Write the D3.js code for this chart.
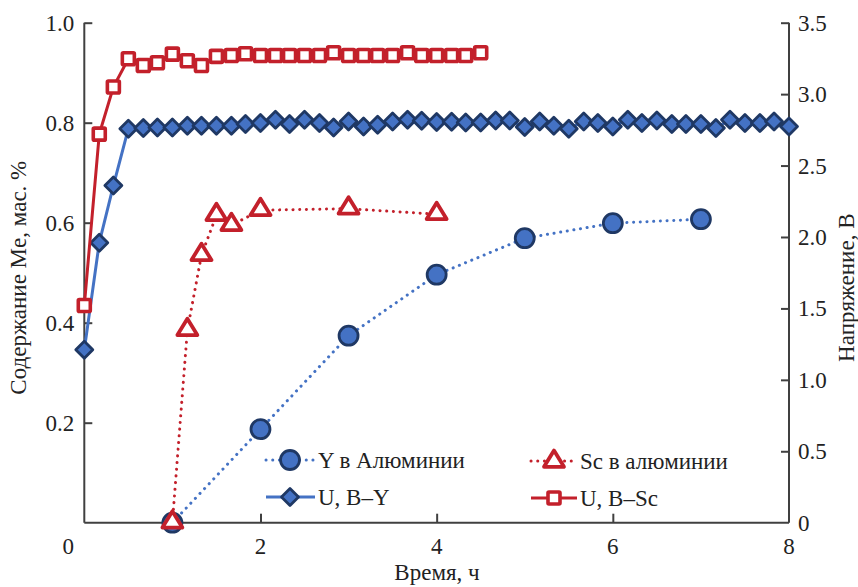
<!DOCTYPE html>
<html><head><meta charset="utf-8">
<script src="https://cdn.jsdelivr.net/npm/d3@7/dist/d3.min.js"></script>
<style>body{margin:0;background:#fff}svg{display:block}</style>
</head><body><svg id="c" width="858" height="587" font-family="'Liberation Serif', 'DejaVu Serif', serif"></svg>
<script>
// ---- data ----
const timeUY = [0,0.17,0.33,0.5,0.67,0.83,1,1.17,1.33,1.5,1.67,1.83,2,2.17,2.33,2.5,2.67,2.83,3,3.17,3.33,3.5,3.67,3.83,4,4.17,4.33,4.5,4.67,4.83,5,5.17,5.33,5.5,5.67,5.83,6,6.17,6.33,6.5,6.67,6.83,7,7.17,7.33,7.5,7.67,7.83,8];
const voltUY = [1.21,1.96,2.36,2.758,2.763,2.767,2.767,2.779,2.779,2.779,2.779,2.791,2.798,2.821,2.791,2.821,2.798,2.767,2.809,2.774,2.786,2.809,2.821,2.814,2.805,2.807,2.802,2.802,2.816,2.816,2.770,2.809,2.779,2.758,2.809,2.798,2.774,2.821,2.798,2.816,2.791,2.791,2.791,2.763,2.821,2.798,2.798,2.809,2.774];
const timeUSc = [0,0.17,0.33,0.5,0.67,0.83,1,1.17,1.33,1.5,1.67,1.83,2,2.17,2.33,2.5,2.67,2.83,3,3.17,3.33,3.5,3.67,3.83,4,4.17,4.33,4.5];
const voltUSc = [1.52,2.72,3.05,3.248,3.20,3.22,3.28,3.234,3.20,3.264,3.27,3.283,3.27,3.27,3.27,3.27,3.27,3.29,3.27,3.27,3.27,3.27,3.29,3.27,3.27,3.27,3.27,3.29];
const timeY = [1,2,3,4,5,6,7];
const contY = [0,0.187,0.374,0.496,0.569,0.599,0.607];
const timeSc = [1,1.17,1.33,1.5,1.67,2,3,4];
const contSc = [0,0.385,0.535,0.615,0.595,0.625,0.628,0.617];
const xTicks = [2,4,6,8];
const leftTicks = [0.2,0.4,0.6,0.8,1.0];
const rightTicks = [0,0.5,1.0,1.5,2.0,2.5,3.0,3.5];
const legendLabels = ["Y в Алюминии","Sc в алюминии","U, B\u2013Y","U, B\u2013Sc"];
const xTitle = "Время, ч", yLeftTitle = "Содержание Me, мас. %", yRightTitle = "Напряжение, В";

// ---- layout ----
const L = 84.3, R = 789, T = 22.7, B = 522.7;
const RED = "#C3202B", BLUE = "#4472C4", NAVY = "#1F3864", AX = "#404040", TXT = "#222";
const svg = d3.select("#c");
const x = d3.scaleLinear().domain([0,8]).range([L,R]);
const yL = d3.scaleLinear().domain([0,1]).range([B,T]);
const yR = d3.scaleLinear().domain([0,3.5]).range([B,T]);
const FS = 23;

// axes
const axL = svg.append("g").attr("transform",`translate(${L},0)`)
  .call(d3.axisRight(yL).tickValues(leftTicks).tickSize(8).tickFormat(""));
const axR = svg.append("g").attr("transform",`translate(${R},0)`)
  .call(d3.axisLeft(yR).tickValues(rightTicks.slice(1)).tickSize(8).tickFormat(""));
const axB = svg.append("g").attr("transform",`translate(0,${B})`)
  .call(d3.axisTop(x).tickValues(xTicks.slice(0,3)).tickSize(9).tickFormat(""));
[axL,axR,axB].forEach(g=>{g.selectAll("path,line").attr("stroke",AX).attr("stroke-width",2);});
axL.select(".domain").attr("d",`M0,${T}V${B}`);
axR.select(".domain").attr("d",`M0,${T}V${B}`);
axB.select(".domain").attr("d",`M${L},0H${R}`);

function txt(sel){return sel.attr("font-size",FS).attr("fill",TXT).attr("font-family","'Liberation Serif', 'DejaVu Serif', serif");}

// tick labels
txt(svg.append("g").selectAll("text").data(leftTicks).join("text")
  .attr("x",L-10).attr("y",d=>yL(d)+8).attr("text-anchor","end"))
  .text(d=>d3.format(".1f")(d));
txt(svg.append("g").selectAll("text").data(rightTicks).join("text")
  .attr("x",R+9).attr("y",d=>yR(d)+8).attr("text-anchor","start"))
  .text(d=>d===0?"0":d3.format(".1f")(d));
txt(svg.append("g").selectAll("text").data(xTicks).join("text")
  .attr("x",d=>x(d)).attr("y",B+31).attr("text-anchor","middle"))
  .text(d=>d);
txt(svg.append("text").attr("x",x(0)-16).attr("y",B+31).attr("text-anchor","middle")).text("0");

// titles
txt(svg.append("text").attr("x",437).attr("y",580).attr("text-anchor","middle")).text(xTitle);
txt(svg.append("text").attr("transform",`translate(26,${(T+B)/2+5}) rotate(-90)`).attr("text-anchor","middle")).text(yLeftTitle);
txt(svg.append("text").attr("transform",`translate(854,${(T+B)/2+15}) rotate(-90)`).attr("text-anchor","middle")).text(yRightTitle);

// marker helpers
function circle(g,cx,cy){g.append("circle").attr("cx",cx).attr("cy",cy).attr("r",9.5).attr("fill",BLUE).attr("stroke",NAVY).attr("stroke-width",2.8);}
function tri(g,cx,cy){const s=9.5;g.append("path").attr("d",`M${cx},${cy-s}L${cx+s*1.05},${cy+s*0.72}L${cx-s*1.05},${cy+s*0.72}Z`).attr("fill","#fff").attr("stroke",RED).attr("stroke-width",3.8).attr("stroke-linejoin","round");}
function diamond(g,cx,cy){const s=8.5;g.append("path").attr("d",`M${cx},${cy-s}L${cx+s},${cy}L${cx},${cy+s}L${cx-s},${cy}Z`).attr("fill",BLUE).attr("stroke",NAVY).attr("stroke-width",2.8).attr("stroke-linejoin","round");}
function square(g,cx,cy){const s=6;g.append("rect").attr("x",cx-s).attr("y",cy-s).attr("width",2*s).attr("height",2*s).attr("rx",1).attr("fill","#fff").attr("stroke",RED).attr("stroke-width",3.6);}

const dotted = "0.1 6.6";
// Y content
const gY = svg.append("g");
gY.append("path").attr("d",d3.line().x((d,i)=>x(timeY[i])).y(d=>yL(d))(contY))
  .attr("fill","none").attr("stroke",BLUE).attr("stroke-width",3).attr("stroke-linecap","round").attr("stroke-dasharray",dotted);
contY.forEach((v,i)=>circle(gY,x(timeY[i]),yL(v)));
// Sc content
const gS = svg.append("g");
gS.append("path").attr("d",d3.line().x((d,i)=>x(timeSc[i])).y(d=>yL(d))(contSc))
  .attr("fill","none").attr("stroke",RED).attr("stroke-width",3).attr("stroke-linecap","round").attr("stroke-dasharray",dotted);
contSc.forEach((v,i)=>tri(gS,x(timeSc[i]),yL(v)-2));
// U B-Y
const gU = svg.append("g");
gU.append("path").attr("d",d3.line().x((d,i)=>x(timeUY[i])).y(d=>yR(d))(voltUY))
  .attr("fill","none").attr("stroke",BLUE).attr("stroke-width",3);
voltUY.forEach((v,i)=>diamond(gU,x(timeUY[i]),yR(v)));
// U B-Sc
const gV = svg.append("g");
gV.append("path").attr("d",d3.line().x((d,i)=>x(timeUSc[i])).y(d=>yR(d))(voltUSc))
  .attr("fill","none").attr("stroke",RED).attr("stroke-width",3);
voltUSc.forEach((v,i)=>square(gV,x(timeUSc[i]),yR(v)));

// legend
const lg = svg.append("g");
const items = [
  {lx:266,cx:290,tx:318,y:460,col:BLUE,dash:dotted,m:circle,label:legendLabels[0]},
  {lx:531,cx:554,tx:580,y:461,col:RED,dash:dotted,m:tri,label:legendLabels[1]},
  {lx:266,cx:290,tx:318,y:497,col:BLUE,dash:null,m:diamond,label:legendLabels[2]},
  {lx:531,cx:554,tx:580,y:498,col:RED,dash:null,m:square,label:legendLabels[3]}
];
items.forEach(it=>{
  const ln = lg.append("line").attr("x1",it.lx).attr("x2",it.tx-3).attr("y1",it.y).attr("y2",it.y)
    .attr("stroke",it.col).attr("stroke-width",3);
  if(it.dash) ln.attr("stroke-dasharray",it.dash).attr("stroke-linecap","round");
  it.m(lg,it.cx,it.m===tri?it.y-1:it.y);
  txt(lg.append("text").attr("x",it.tx).attr("y",it.y+8)).text(it.label);
});
</script></body></html>
